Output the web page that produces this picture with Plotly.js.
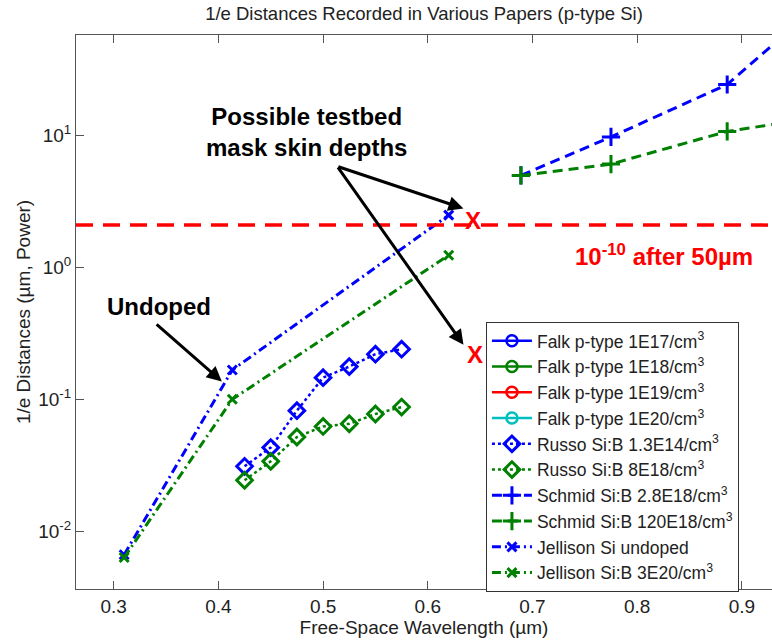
<!DOCTYPE html>
<html>
<head>
<meta charset="utf-8">
<script src="https://cdn.plot.ly/plotly-3.0.1.min.js"></script>
<style>html,body{margin:0;padding:0;background:#fff;}#chart{width:772px;height:640px;}</style>
</head>
<body>
<div id="chart"></div>
<script>
// ---- data ----
const russoX = [0.425, 0.45, 0.475, 0.5, 0.525, 0.55, 0.575];
const russo13E14Y = [0.031, 0.043, 0.082, 0.146, 0.177, 0.220, 0.240];
const russo8E18Y = [0.0243, 0.0338, 0.0517, 0.0622, 0.0652, 0.0773, 0.0873];
const schmidX = [0.689, 0.775, 0.886, 1.033];
const schmid28E18Y = [5.0, 9.8, 24.5, 254];
const schmid120E18Y = [5.0, 6.1, 10.8, 16.2];
const jellisonX = [0.31, 0.4133, 0.62];
const jellisonUndopedY = [0.0066, 0.167, 2.5];
const jellison3E20Y = [0.0063, 0.100, 1.24];
const falkX = [null];   // Falk series: listed in the legend, no points inside the view
const falkY = [null];
const legendNames = [
  'Falk p-type 1E17/cm<sup>3</sup>', 'Falk p-type 1E18/cm<sup>3</sup>',
  'Falk p-type 1E19/cm<sup>3</sup>', 'Falk p-type 1E20/cm<sup>3</sup>',
  'Russo Si:B 1.3E14/cm<sup>3</sup>', 'Russo Si:B 8E18/cm<sup>3</sup>',
  'Schmid Si:B 2.8E18/cm<sup>3</sup>', 'Schmid Si:B 120E18/cm<sup>3</sup>',
  'Jellison Si undoped', 'Jellison Si:B 3E20/cm<sup>3</sup>'
];
const xTicks = [0.3, 0.4, 0.5, 0.6, 0.7, 0.8, 0.9];
const xTickLabels = ['0.3', '0.4', '0.5', '0.6', '0.7', '0.8', '0.9'];
const yTicks = [0.01, 0.1, 1, 10];
const yTickLabels = ['10<sup>-2</sup>', '10<sup>-1</sup>', '10<sup>0</sup>', '10<sup>1</sup>'];
const yMinorDecades = [0.001, 0.01, 0.1, 1, 10];
const yMinorDigits = [2, 3, 4, 5, 6, 7, 8, 9];
const skinDepthLimit = 2.1;           // red dashed reference level
const markX = [0.643, 0.645];          // red "X" marks
const markY = [2.29, 0.217];

const yMinorTicks = [];
yMinorDecades.forEach(d => yMinorDigits.forEach(k => yMinorTicks.push(d * k)));

const BLUE = '#0000ff', GREEN = '#008000', RED = '#ff0000', CYAN = '#00bfbf';
const FONT = 'Liberation Sans, Arial, Helvetica, sans-serif';
const Y_RANGE = [-2.44, 1.765];

function falk(i, color) {
  return {x: falkX, y: falkY, name: legendNames[i], type: 'scatter', mode: 'lines+markers', showlegend: true,
    line: {color: color, width: 2.5}, marker: {symbol: 'circle-open', size: 11, color: color, line: {width: 2.5}}};
}
const traces = [
  falk(0, BLUE), falk(1, GREEN), falk(2, RED), falk(3, CYAN),
  {x: russoX, y: russo13E14Y, name: legendNames[4], type: 'scatter', mode: 'lines+markers',
    line: {color: BLUE, width: 2.5, dash: 'dot'},
    marker: {symbol: 'diamond-open', size: 12, color: BLUE, line: {width: 3}}},
  {x: russoX, y: russo8E18Y, name: legendNames[5], type: 'scatter', mode: 'lines+markers',
    line: {color: GREEN, width: 2.5, dash: 'dot'},
    marker: {symbol: 'diamond-open', size: 12, color: GREEN, line: {width: 3}}},
  {x: schmidX, y: schmid28E18Y, name: legendNames[6], type: 'scatter', mode: 'lines+markers',
    line: {color: BLUE, width: 3, dash: '10px,6px'},
    marker: {symbol: 'cross-thin-open', size: 13, color: BLUE, line: {width: 3, color: BLUE}}},
  {x: schmidX, y: schmid120E18Y, name: legendNames[7], type: 'scatter', mode: 'lines+markers',
    line: {color: GREEN, width: 3, dash: '10px,6px'},
    marker: {symbol: 'cross-thin-open', size: 13, color: GREEN, line: {width: 3, color: GREEN}}},
  {x: jellisonX, y: jellisonUndopedY, name: legendNames[8], type: 'scatter', mode: 'lines+markers',
    line: {color: BLUE, width: 3, dash: '9px,4px,2px,4px'},
    marker: {symbol: 'x-thin-open', size: 9, color: BLUE, line: {width: 3, color: BLUE}}},
  {x: jellisonX, y: jellison3E20Y, name: legendNames[9], type: 'scatter', mode: 'lines+markers',
    line: {color: GREEN, width: 3, dash: '9px,4px,2px,4px'},
    marker: {symbol: 'x-thin-open', size: 9, color: GREEN, line: {width: 3, color: GREEN}}}
];

const L = Math.log10;
const annotations = [
  {x: 0.4845, y: 1.027, xref: 'x', yref: 'y', showarrow: false,
   text: '<b>Possible testbed<br>mask skin depths</b>', font: {family: FONT, size: 24, color: '#000'}},
  {x: 0.3428, y: -0.299, xref: 'x', yref: 'y', showarrow: false,
   text: '<b>Undoped</b>', font: {family: FONT, size: 24, color: '#000'}},
  {x: 0.8258, y: 0.095, xref: 'x', yref: 'y', showarrow: false,
   text: '<b>10<sup>-10</sup> after 50µm</b>', font: {family: FONT, size: 24, color: RED}},
  {x: markX[0], y: L(markY[0]), xref: 'x', yref: 'y', showarrow: false, text: '<b>X</b>', font: {family: FONT, size: 24, color: RED}},
  {x: markX[1], y: L(markY[1]), xref: 'x', yref: 'y', showarrow: false, text: '<b>X</b>', font: {family: FONT, size: 24, color: RED}},
  {x: 0.4033, y: -0.865, xref: 'x', yref: 'y', text: '', showarrow: true, ax: -66.7, ay: -58.4,
   arrowhead: 2, arrowsize: 1, arrowwidth: 3, arrowcolor: '#000'},
  {x: 0.6341, y: 0.448, xref: 'x', yref: 'y', text: '', showarrow: true, ax: -126.6, ay: -42.3,
   arrowhead: 2, arrowsize: 1, arrowwidth: 3, arrowcolor: '#000'},
  {x: 0.6341, y: -0.587, xref: 'x', yref: 'y', text: '', showarrow: true, ax: -126.6, ay: -179,
   arrowhead: 2, arrowsize: 1, arrowwidth: 3, arrowcolor: '#000'}
];

const layout = {
  width: 772, height: 640,
  margin: {l: 76, r: 0, t: 35, b: 51},
  paper_bgcolor: '#fff', plot_bgcolor: '#fff',
  font: {family: FONT, size: 19, color: '#222'},
  title: {text: '1/e Distances Recorded in Various Papers (p-type Si)', font: {family: FONT, size: 18.5, color: '#222'},
          x: 0.5, xref: 'paper', y: 0.979, yref: 'container', yanchor: 'middle'},
  xaxis: {range: [0.264, 0.9288], tickvals: xTicks, ticktext: xTickLabels, ticks: 'inside', ticklen: 8,
          tickcolor: '#555', showline: true, linecolor: '#555', linewidth: 1, mirror: 'ticks',
          showgrid: false, zeroline: false, tickfont: {size: 19},
          title: {text: 'Free-Space Wavelength (µm)', font: {size: 19}, standoff: 3}},
  yaxis: {type: 'log', range: Y_RANGE, tickvals: yTicks, ticktext: yTickLabels, ticks: 'inside', ticklen: 8,
          tickcolor: '#555', showline: true, linecolor: '#555', linewidth: 1, mirror: false,
          showgrid: false, zeroline: false, tickfont: {size: 19},
          title: {text: '1/e Distances (µm, Power)', font: {size: 19}, standoff: 2}},
  yaxis2: {type: 'log', range: Y_RANGE, overlaying: 'y', side: 'left', anchor: 'x', tickvals: yMinorTicks,
           ticks: 'inside', ticklen: 4, tickcolor: '#555', showticklabels: false, showline: false,
           showgrid: false, zeroline: false},
  legend: {x: 0.589, y: 0.482, xanchor: 'left', yanchor: 'top', bgcolor: '#fff', bordercolor: '#333', borderwidth: 1,
           font: {family: FONT, size: 17.5, color: '#222'}, tracegroupgap: 0, itemwidth: 40},
  shapes: [{type: 'line', xref: 'paper', x0: 0, x1: 1, yref: 'y', y0: skinDepthLimit, y1: skinDepthLimit,
            line: {color: RED, width: 3.5, dash: '17px,10px'}}],
  annotations: annotations,
  showlegend: true
};

Plotly.newPlot('chart', traces, layout, {staticPlot: true, displayModeBar: false});
</script>
</body>
</html>
